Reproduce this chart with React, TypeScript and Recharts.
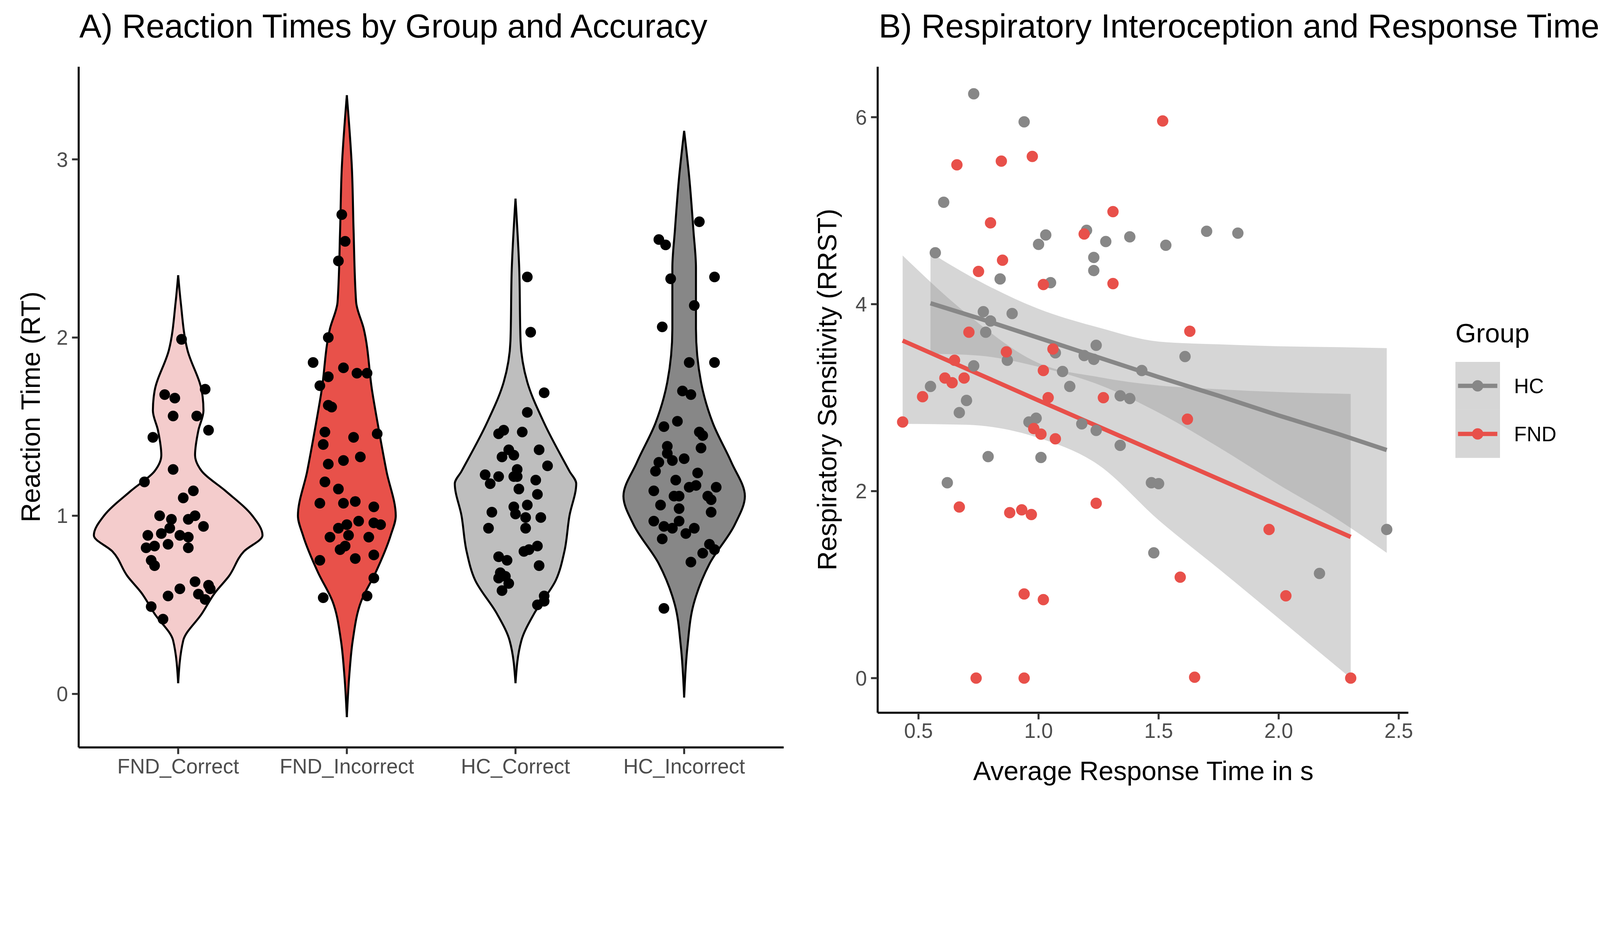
import React from 'react';
import { ComposedChart, Area, Scatter, Line, XAxis, YAxis } from 'recharts';

// ---- Panel A data ----
const categories = ['FND_Correct', 'FND_Incorrect', 'HC_Correct', 'HC_Incorrect'];
const violinFills = ['#F4CCCC', '#E8514A', '#BEBEBE', '#878787'];

// [rt, half width in category units]
const fndCorrectDensity = [
  [0.06, 0], [0.3, 0.03], [0.45, 0.14], [0.57, 0.22], [0.66, 0.3], [0.8, 0.39], [0.89, 0.5],
  [1.0, 0.44], [1.14, 0.28], [1.25, 0.14], [1.34, 0.1], [1.48, 0.12], [1.59, 0.15], [1.7, 0.14],
  [1.93, 0.055], [2.2, 0.015], [2.35, 0],
];
const fndIncorrectDensity = [
  [-0.13, 0], [0.11, 0.015], [0.3, 0.035], [0.52, 0.085], [0.68, 0.17], [0.89, 0.26], [1.0, 0.29],
  [1.25, 0.235], [1.48, 0.19], [1.7, 0.15], [2.05, 0.1], [2.2, 0.055], [2.6, 0.04], [2.95, 0.03], [3.36, 0],
];
const hcCorrectDensity = [
  [0.06, 0], [0.3, 0.035], [0.45, 0.11], [0.64, 0.24], [0.8, 0.29], [1.0, 0.32], [1.18, 0.36],
  [1.25, 0.32], [1.52, 0.17], [1.75, 0.07], [1.98, 0.03], [2.39, 0.022], [2.78, 0],
];
const hcIncorrectDensity = [
  [-0.02, 0], [0.27, 0.02], [0.5, 0.055], [0.73, 0.15], [0.95, 0.3], [1.11, 0.36], [1.3, 0.28],
  [1.52, 0.17], [1.75, 0.1], [2.05, 0.07], [2.39, 0.07], [2.6, 0.055], [2.9, 0.03], [3.16, 0],
];
const densities = [fndCorrectDensity, fndIncorrectDensity, hcCorrectDensity, hcIncorrectDensity];

// [jitter offset, rt]
const fndCorrectPoints = [
  [0.02, 1.99], [0.16, 1.71], [-0.08, 1.68], [-0.02, 1.66], [-0.03, 1.56], [0.11, 1.56], [0.18, 1.48],
  [-0.15, 1.44], [-0.03, 1.26], [-0.2, 1.19], [0.03, 1.1], [0.09, 1.14], [-0.11, 1.0], [-0.04, 0.98],
  [0.06, 0.98], [0.1, 1.0], [0.15, 0.94], [-0.18, 0.89], [-0.1, 0.9], [-0.05, 0.93], [0.01, 0.89],
  [0.06, 0.88], [-0.19, 0.82], [-0.14, 0.83], [-0.06, 0.84], [0.06, 0.82], [-0.16, 0.75], [-0.14, 0.72],
  [0.1, 0.63], [0.18, 0.61], [0.01, 0.59], [-0.06, 0.55], [0.12, 0.56], [0.19, 0.59], [0.16, 0.53],
  [-0.16, 0.49], [-0.09, 0.42],
];
const fndIncorrectPoints = [
  [-0.03, 2.69], [-0.01, 2.54], [-0.05, 2.43], [-0.11, 2.0], [-0.2, 1.86], [-0.11, 1.78], [-0.16, 1.73],
  [-0.02, 1.83], [0.06, 1.8], [0.12, 1.8], [-0.11, 1.62], [-0.09, 1.61], [-0.13, 1.47], [0.04, 1.44],
  [0.18, 1.46], [-0.14, 1.4], [0.08, 1.33], [-0.11, 1.29], [-0.02, 1.31], [-0.13, 1.19], [-0.05, 1.15],
  [-0.16, 1.07], [-0.02, 1.07], [0.05, 1.08], [0.16, 1.05], [0.07, 0.97], [0.16, 0.96], [0.2, 0.95],
  [-0.05, 0.93], [0, 0.95], [-0.1, 0.88], [0.01, 0.89], [0.13, 0.88], [-0.01, 0.83], [-0.04, 0.81],
  [0.16, 0.78], [-0.16, 0.75], [0.05, 0.76], [0.16, 0.65], [-0.14, 0.54], [0.12, 0.55],
];
const hcCorrectPoints = [
  [0.07, 2.34], [0.09, 2.03], [0.17, 1.69], [0.07, 1.58], [-0.1, 1.46], [-0.07, 1.48], [0.04, 1.47],
  [-0.04, 1.37], [-0.01, 1.34], [-0.08, 1.33], [0.14, 1.37], [0.19, 1.28], [0.01, 1.26], [-0.18, 1.23],
  [-0.1, 1.22], [-0.01, 1.22], [0.01, 1.22], [-0.15, 1.18], [0.12, 1.2], [0.02, 1.15], [0.13, 1.12],
  [0.07, 1.06], [-0.01, 1.05], [0, 1.01], [-0.14, 1.02], [0.15, 0.99], [0.06, 0.99], [0.06, 0.93],
  [-0.16, 0.93], [0.13, 0.83], [0.05, 0.8], [0.08, 0.81], [-0.1, 0.77], [-0.05, 0.75], [0.14, 0.72],
  [-0.09, 0.68], [-0.06, 0.66], [-0.1, 0.65], [-0.04, 0.62], [-0.08, 0.58], [0.17, 0.55], [0.13, 0.5],
  [0.17, 0.52],
];
const hcIncorrectPoints = [
  [0.09, 2.65], [-0.15, 2.55], [-0.11, 2.52], [0.18, 2.34], [-0.08, 2.33], [0.06, 2.18], [-0.13, 2.06],
  [0.03, 1.86], [0.18, 1.86], [-0.01, 1.7], [0.04, 1.68], [-0.04, 1.53], [-0.12, 1.5], [0.09, 1.47],
  [0.11, 1.45], [-0.1, 1.39], [0.1, 1.38], [-0.1, 1.35], [0, 1.32], [-0.07, 1.31], [-0.15, 1.3],
  [-0.17, 1.25], [0.08, 1.24], [-0.05, 1.2], [0.03, 1.16], [0.07, 1.17], [0.19, 1.16], [-0.18, 1.14],
  [-0.06, 1.11], [-0.03, 1.11], [0.14, 1.11], [0.16, 1.09], [-0.14, 1.06], [-0.03, 1.04], [0.16, 1.02],
  [-0.18, 0.97], [-0.03, 0.97], [-0.12, 0.94], [-0.07, 0.93], [0.06, 0.93], [0.01, 0.9], [-0.13, 0.87],
  [0.15, 0.84], [0.18, 0.81], [0.11, 0.79], [0.04, 0.74], [-0.12, 0.48],
];
const rtPoints = [fndCorrectPoints, fndIncorrectPoints, hcCorrectPoints, hcIncorrectPoints];
const rtTicks = [0, 1, 2, 3];

// ---- Panel B data ----
// [avg response time, RRST]
const fndPoints = [
  [0.434, 2.74], [0.517, 3.01], [0.66, 5.49], [0.845, 5.53], [0.974, 5.58], [1.517, 5.96], [1.31, 4.99],
  [0.8, 4.87], [0.85, 4.47], [0.75, 4.35], [1.19, 4.75], [1.02, 4.21], [1.31, 4.22], [1.63, 3.71],
  [0.71, 3.7], [0.866, 3.49], [0.65, 3.4], [1.06, 3.52], [1.02, 3.29], [0.61, 3.21], [0.64, 3.16],
  [0.69, 3.21], [1.04, 3.0], [1.27, 3.0], [1.62, 2.77], [0.98, 2.67], [1.01, 2.61], [1.07, 2.56],
  [0.67, 1.83], [0.88, 1.77], [0.93, 1.8], [0.97, 1.75], [1.24, 1.87], [1.96, 1.59], [1.59, 1.08],
  [0.94, 0.9], [1.02, 0.84], [2.03, 0.88], [0.74, 0], [0.94, 0], [1.65, 0.01], [2.3, 0],
];
const hcPoints = [
  [0.73, 6.25], [0.94, 5.95], [0.605, 5.09], [0.57, 4.55], [1.03, 4.74], [1.0, 4.64], [1.2, 4.79],
  [1.28, 4.67], [1.38, 4.72], [1.53, 4.63], [1.23, 4.5], [1.23, 4.36], [1.7, 4.78], [1.83, 4.76],
  [0.84, 4.27], [1.05, 4.23], [0.77, 3.92], [0.89, 3.9], [0.8, 3.82], [0.78, 3.7], [1.24, 3.56],
  [1.07, 3.48], [1.19, 3.45], [1.23, 3.41], [0.87, 3.4], [1.61, 3.44], [0.73, 3.34], [1.1, 3.28],
  [1.43, 3.29], [1.13, 3.12], [0.55, 3.12], [1.34, 3.02], [1.38, 2.99], [0.7, 2.97], [0.67, 2.84],
  [0.99, 2.78], [0.96, 2.74], [1.18, 2.72], [1.24, 2.65], [1.34, 2.49], [0.79, 2.37], [1.01, 2.36],
  [0.62, 2.09], [1.47, 2.09], [1.5, 2.08], [1.48, 1.34], [2.17, 1.12], [2.45, 1.59],
];
// [x, fit, lower, upper]
const hcFit = [
  [0.55, 4.01, 3.47, 4.55], [0.75, 3.85, 3.45, 4.25], [1.0, 3.64, 3.33, 3.95], [1.25, 3.43, 3.14, 3.75],
  [1.5, 3.22, 2.84, 3.6], [1.75, 3.02, 2.47, 3.57], [2.0, 2.81, 2.07, 3.55], [2.25, 2.61, 1.69, 3.54],
  [2.45, 2.44, 1.34, 3.53],
];
const fndFit = [
  [0.434, 3.61, 2.72, 4.52], [0.7, 3.31, 2.71, 3.9], [1.0, 2.97, 2.57, 3.37], [1.25, 2.69, 2.28, 3.22],
  [1.5, 2.41, 1.69, 3.13], [1.75, 2.13, 1.17, 3.09], [2.0, 1.85, 0.64, 3.06], [2.3, 1.51, 0.0, 3.04],
];
const respTicks = [0.5, 1.0, 1.5, 2.0, 2.5];
const rrstTicks = [0, 2, 4, 6];

const RED = '#E8504A';
const GREY = '#878787';
const FONT = '"Liberation Sans", Arial, Helvetica, sans-serif';

const tickStyle = { fontSize: 62, fill: '#4D4D4D', fontFamily: FONT };
const axisLine = { stroke: '#000', strokeWidth: 6 };
const tickLine = { stroke: '#333', strokeWidth: 6 };

const dot = (r: number, fill: string) => (p: any) => <circle cx={p.cx} cy={p.cy} r={r} fill={fill} />;

export default function App() {
  const scale = Math.min(window.innerWidth / 4800, window.innerHeight / 2400, 1);
  const abs = (left: number, top: number): React.CSSProperties => ({ position: 'absolute', left, top });
  return (
    <div style={{ position: 'fixed', left: 0, top: 0, width: 4800 * scale, height: 2400 * scale, overflow: 'hidden', background: '#fff' }}>
    <div style={{ position: 'relative', width: 4800, height: 2400, overflow: 'hidden', background: '#fff', fontFamily: FONT, transform: `scale(${scale})`, transformOrigin: '0 0' }}>
      <div style={{ ...abs(238, 28), fontSize: 100, whiteSpace: 'nowrap', lineHeight: 1 }}>A) Reaction Times by Group and Accuracy</div>
      <div style={{ ...abs(2636, 28), fontSize: 100, whiteSpace: 'nowrap', lineHeight: 1 }}>B) Respiratory Interoception and Response Times</div>

      <div style={{ ...abs(92, 1220), transform: 'translate(-50%,-50%) rotate(-90deg)', fontSize: 80, whiteSpace: 'nowrap' }}>Reaction Time (RT)</div>
      <div style={{ ...abs(2482, 1168), transform: 'translate(-50%,-50%) rotate(-90deg)', fontSize: 80, whiteSpace: 'nowrap' }}>Respiratory Sensitivity (RRST)</div>
      <div style={{ ...abs(3430, 2312), transform: 'translate(-50%,-50%)', fontSize: 80, whiteSpace: 'nowrap' }}>Average Response Time in s</div>

      <div style={abs(0, 0)}>
        <ComposedChart layout="vertical" width={2400} height={2400} margin={{ top: 200, right: 49, bottom: 9, left: 86 }}>
          <XAxis type="number" dataKey="x" domain={[0.41, 4.59]} ticks={[1, 2, 3, 4]} allowDataOverflow
            tickFormatter={(v: number) => categories[v - 1]} height={150} tick={tickStyle}
            axisLine={axisLine} tickLine={tickLine} tickSize={20} tickMargin={14} />
          <YAxis type="number" dataKey="y" domain={[-0.3, 3.52]} ticks={rtTicks} allowDataOverflow width={150} reversed
            tick={tickStyle} axisLine={axisLine} tickLine={tickLine} tickSize={20} tickMargin={12} />
          {densities.map((d, i) => (
            <Area key={'v' + i} data={d.map(([y, w]) => ({ y, band: [i + 1 - w, i + 1 + w] }))} dataKey="band"
              type="monotone" fill={violinFills[i]} fillOpacity={1} stroke="#000" strokeWidth={6} isAnimationActive={false} />
          ))}
          {rtPoints.map((pts, i) => (
            <Scatter key={'p' + i} data={pts.map(([dx, y]) => ({ x: i + 1 + dx, y }))} shape={dot(16, '#000')} isAnimationActive={false} />
          ))}
        </ComposedChart>
      </div>

      <div style={abs(2400, 0)}>
        <ComposedChart width={1900} height={2400} margin={{ top: 200, right: 75, bottom: 113, left: 83 }}>
          <XAxis type="number" dataKey="x" domain={[0.33, 2.54]} ticks={respTicks} allowDataOverflow
            tickFormatter={(v: number) => v.toFixed(1)} height={150} tick={tickStyle}
            axisLine={axisLine} tickLine={tickLine} tickSize={20} tickMargin={12} />
          <YAxis type="number" dataKey="y" domain={[-0.37, 6.54]} ticks={rrstTicks} allowDataOverflow width={150}
            tick={tickStyle} axisLine={axisLine} tickLine={tickLine} tickSize={20} tickMargin={12} />
          <Scatter data={hcPoints.map(([x, y]) => ({ x, y }))} shape={dot(17, GREY)} isAnimationActive={false} />
          <Scatter data={fndPoints.map(([x, y]) => ({ x, y }))} shape={dot(17, RED)} isAnimationActive={false} />
          <Area data={hcFit.map(([x, , lo, hi]) => ({ x, band: [lo, hi] }))} dataKey="band" type="monotone"
            fill="#999999" fillOpacity={0.4} stroke="none" isAnimationActive={false} />
          <Area data={fndFit.map(([x, , lo, hi]) => ({ x, band: [lo, hi] }))} dataKey="band" type="monotone"
            fill="#999999" fillOpacity={0.4} stroke="none" isAnimationActive={false} />
          <Line data={hcFit.map(([x, y]) => ({ x, y }))} dataKey="y" type="linear" stroke={GREY} strokeWidth={13} dot={false} isAnimationActive={false} />
          <Line data={fndFit.map(([x, y]) => ({ x, y }))} dataKey="y" type="linear" stroke={RED} strokeWidth={13} dot={false} isAnimationActive={false} />
        </ComposedChart>
      </div>

      <div style={{ ...abs(4366, 960), fontSize: 80, lineHeight: 1 }}>Group</div>
      <svg style={abs(4366, 1085)} width={430} height={300}>
        {[{ label: 'HC', c: GREY }, { label: 'FND', c: RED }].map((k, i) => (
          <g key={k.label} transform={`translate(0, ${i * 144})`}>
            <rect x={0} y={0} width={134} height={144} fill="#999999" fillOpacity={0.4} />
            <line x1={8} x2={126} y1={72} y2={72} stroke={k.c} strokeWidth={13} />
            <circle cx={67} cy={72} r={17} fill={k.c} />
            <text x={176} y={72} dy="0.35em" fontSize={62} fontFamily={FONT} fill="#000">{k.label}</text>
          </g>
        ))}
      </svg>
    </div>
    </div>
  );
}
